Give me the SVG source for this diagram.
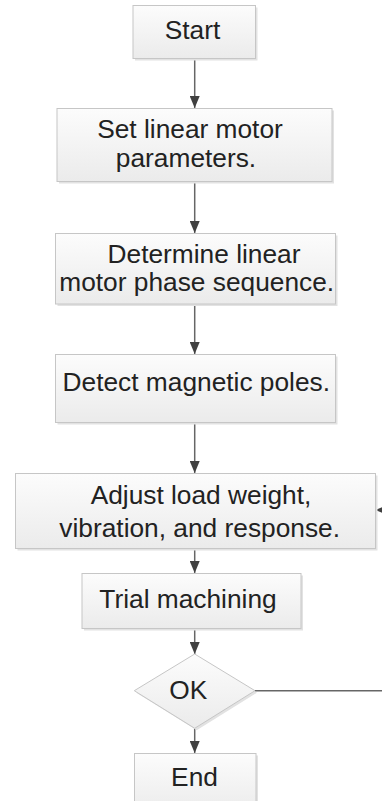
<svg xmlns="http://www.w3.org/2000/svg" width="382" height="801" viewBox="0 0 382 801">
<defs>
<linearGradient id="g" x1="0" y1="0" x2="0" y2="1">
<stop offset="0" stop-color="#fcfcfc"/>
<stop offset="1" stop-color="#ebebeb"/>
</linearGradient>
<marker id="ah" viewBox="0 0 12 10" refX="12" refY="5" markerWidth="12" markerHeight="10" markerUnits="userSpaceOnUse" orient="auto">
<path d="M0,0 L12,5 L0,10 Z" fill="#404040"/>
</marker>
</defs>
<style>
.box{fill:url(#g);stroke:#c6c6c6;stroke-width:1}
.sh{fill:#e2e2e2}
.t{font-family:"Liberation Sans",Arial,sans-serif;font-size:26.3px;fill:#222;text-anchor:middle}
.c{stroke:#666;stroke-width:1.5;fill:none;marker-end:url(#ah)}
.l{stroke:#666;stroke-width:1.5;fill:none}
</style>
<g id="connectors">
<line class="c" x1="194.7" y1="59" x2="194.7" y2="108"/>
<line class="c" x1="194.7" y1="182" x2="194.7" y2="233"/>
<line class="c" x1="194.7" y1="304" x2="194.7" y2="354"/>
<line class="c" x1="194.7" y1="423" x2="194.7" y2="473"/>
<line class="c" x1="194.7" y1="549" x2="194.7" y2="573"/>
<line class="c" x1="194.7" y1="629" x2="194.7" y2="654"/>
<line class="c" x1="194.7" y1="728" x2="194.7" y2="753"/>
<line class="l" x1="255" y1="690.7" x2="384" y2="690.7"/>
<line class="c" x1="390" y1="510" x2="375.5" y2="510"/>
</g>
<g id="start">
<rect class="sh" x="135" y="7.5" width="122.5" height="53"/>
<rect class="box" x="133" y="5.5" width="122.5" height="53"/>
<text class="t" x="192.5" y="39">Start</text>
</g>
<g id="set">
<rect class="sh" x="59" y="110.5" width="275" height="73"/>
<rect class="box" x="57" y="108.5" width="275" height="73"/>
<text class="t" x="190" y="138">Set linear motor</text>
<text class="t" x="186" y="166.5">parameters.</text>
</g>
<g id="determine">
<rect class="sh" x="57.5" y="235.5" width="280" height="70.5"/>
<rect class="box" x="55.5" y="233.5" width="280" height="70.5"/>
<text class="t" x="204" y="262.5">Determine linear</text>
<text class="t" x="196.7" y="291">motor phase sequence.</text>
</g>
<g id="detect">
<rect class="sh" x="57.5" y="356.5" width="280" height="68"/>
<rect class="box" x="55.5" y="354.5" width="280" height="68"/>
<text class="t" x="196.3" y="391">Detect magnetic poles.</text>
</g>
<g id="adjust">
<rect class="sh" x="17.5" y="475.5" width="360" height="75"/>
<rect class="box" x="15.5" y="473.5" width="360" height="75"/>
<text class="t" x="201" y="504.3">Adjust load weight,</text>
<text class="t" x="199.7" y="536.7">vibration, and response.</text>
</g>
<g id="trial">
<rect class="sh" x="84" y="575.5" width="219" height="55"/>
<rect class="box" x="82" y="573.5" width="219" height="55"/>
<text class="t" x="188" y="607.7">Trial machining</text>
</g>
<g id="ok">
<polygon class="sh" points="196.7,656 257,692.7 196.7,730.3 136.3,692.7"/>
<polygon class="box" points="194.7,654 255,690.7 194.7,728.3 134.3,690.7"/>
<text class="t" x="188.3" y="699.3">OK</text>
</g>
<g id="end">
<rect class="sh" x="136.5" y="755.5" width="121.5" height="60"/>
<rect class="box" x="134.5" y="753.5" width="121.5" height="60"/>
<text class="t" x="194.5" y="785.7">End</text>
</g>
</svg>
